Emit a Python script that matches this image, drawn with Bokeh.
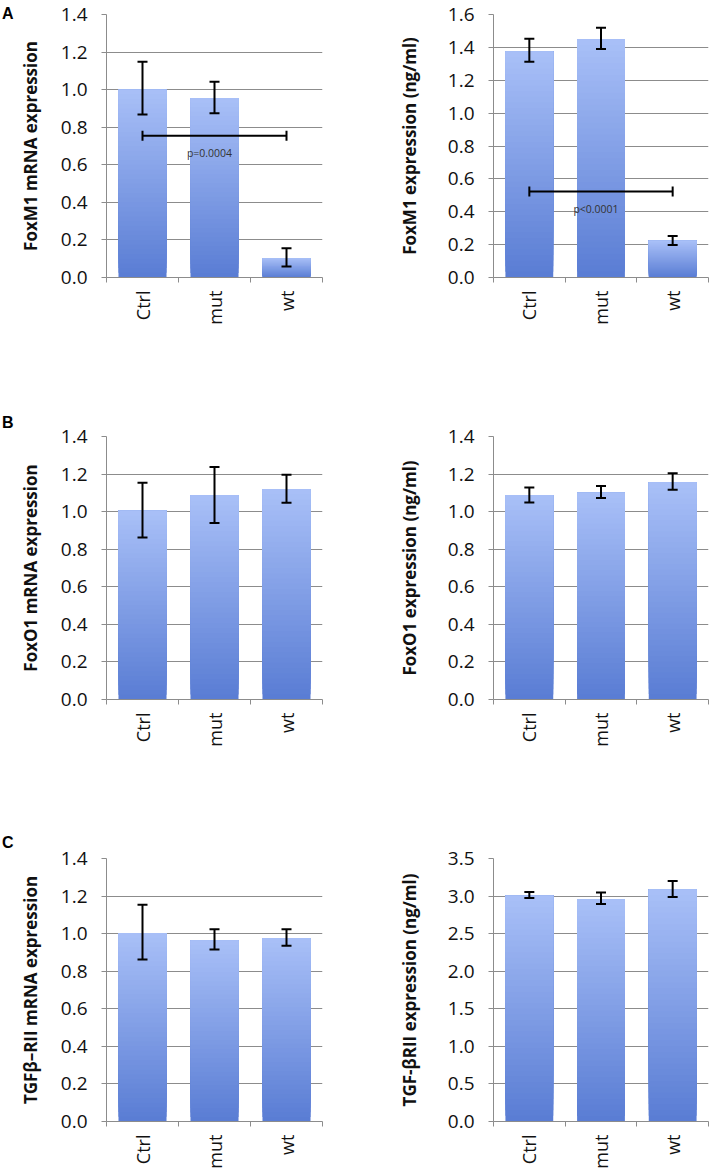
import math
from bokeh.plotting import figure
from bokeh.layouts import column, row
from bokeh.models import (Range1d, FixedTicker, PrintfTickFormatter, Whisker,
                          ColumnDataSource, TeeHead, Div)
from bokeh.core.properties import value
from bokeh.embed import file_html
from bokeh.resources import INLINE

# ---------------- data ----------------
categories = ["Ctrl", "mut", "wt"]

foxm1_mrna = [1.00, 0.955, 0.103]
foxm1_mrna_lo = [0.868, 0.875, 0.059]
foxm1_mrna_hi = [1.148, 1.042, 0.156]

foxm1_prot = [1.375, 1.45, 0.223]
foxm1_prot_lo = [1.312, 1.39, 0.197]
foxm1_prot_hi = [1.452, 1.519, 0.252]

foxo1_mrna = [1.005, 1.087, 1.12]
foxo1_mrna_lo = [0.862, 0.94, 1.048]
foxo1_mrna_hi = [1.154, 1.237, 1.197]

foxo1_prot = [1.089, 1.101, 1.156]
foxo1_prot_lo = [1.049, 1.073, 1.117]
foxo1_prot_hi = [1.129, 1.137, 1.204]

tgfb_mrna = [1.004, 0.964, 0.975]
tgfb_mrna_lo = [0.862, 0.915, 0.936]
tgfb_mrna_hi = [1.154, 1.023, 1.023]

tgfb_prot = [3.005, 2.956, 3.088]
tgfb_prot_lo = [2.974, 2.895, 2.987]
tgfb_prot_hi = [3.054, 3.049, 3.2]

# significance brackets: (from category, to category, level, p-text)
sig_foxm1_mrna = ("Ctrl", "wt", 0.754, "p=0.0004")
sig_foxm1_prot = ("Ctrl", "wt", 0.523, "p<0.0001")

panel_letters = ["A", "B", "C"]

# ---------------- style ----------------
FONT = "Open Sans"
GRAY = "#8c8c8c"
TOP_COL = (0xAA, 0xC1, 0xF8)
BOT_COL = (0x5A, 0x7D, 0xD4)
NSLICE = 40
FRAME_H = 263


def mix(t):
    c = [round(BOT_COL[i] + (TOP_COL[i] - BOT_COL[i]) * t) for i in range(3)]
    return "#%02x%02x%02x" % tuple(c)


def letter_div(letter, height, pad_top, width):
    """Narrow strip holding the panel letter."""
    return Div(text=letter, width=width, height=height,
               styles={"font-family": "Liberation Sans", "font-weight": "bold",
                       "font-size": "16px", "line-height": "18px", "color": "black",
                       "padding-top": f"{pad_top}px", "padding-left": "2px",
                       "box-sizing": "border-box", "margin": "0px"})


def make_panel(vals, lo, hi, ymax, ystep, ylabel, width, height, bl, br, bt, bb,
               label_standoff, sig=None):
    p = figure(width=width, height=height, output_backend="svg",
               toolbar_location=None, title=None, x_range=Range1d(0, len(categories)),
               y_range=Range1d(0, ymax), min_border_left=bl, min_border_right=br,
               min_border_top=bt, min_border_bottom=bb)
    p.outline_line_color = None
    p.background_fill_color = "white"
    p.border_fill_color = "white"

    centers = [i + 0.5 for i in range(len(categories))]
    # gradient bars: overlapping slices from bottom to top of each bar
    xs, bots, tops, cols = [], [], [], []
    for k in range(NSLICE):
        t = k / NSLICE
        for c, v in zip(centers, vals):
            xs.append(c)
            bots.append(v * t)
            tops.append(v)
            cols.append(mix(t))
    p.vbar(x=xs, bottom=bots, top=tops, width=0.667, fill_color=cols, line_color=None)

    src = ColumnDataSource(dict(x=centers, lo=lo, hi=hi))
    wh = Whisker(source=src, base="x", lower="lo", upper="hi", line_width=2,
                 line_color="black", level="overlay",
                 upper_head=TeeHead(size=10, line_width=2, line_color="black"),
                 lower_head=TeeHead(size=10, line_width=2, line_color="black"))
    p.add_layout(wh)

    if sig is not None:
        a, b, lev, txt = sig
        xa = categories.index(a) + 0.5
        xb = categories.index(b) + 0.5
        ssrc = ColumnDataSource(dict(y=[lev], x0=[xa], x1=[xb]))
        sw = Whisker(source=ssrc, base="y", lower="x0", upper="x1", dimension="width",
                     line_width=2, line_color="black", level="overlay",
                     upper_head=TeeHead(size=10, line_width=2, line_color="black"),
                     lower_head=TeeHead(size=10, line_width=2, line_color="black"))
        p.add_layout(sw)
        p.text(x=[(xa + xb) / 2], y=[lev], text=[txt], x_offset=-5, y_offset=17,
               text_align="center", text_baseline="middle",
               text_font=value(FONT), text_font_size="10.5px", text_color="#333333")

    # y axis
    n = int(round(ymax / ystep))
    p.yaxis.ticker = FixedTicker(ticks=[round(i * ystep, 3) for i in range(n + 1)])
    p.yaxis.formatter = PrintfTickFormatter(format="%.1f")
    p.yaxis.major_label_text_font = FONT
    p.yaxis.major_label_text_font_size = "19px"
    p.yaxis.major_label_text_color = "#111111"
    p.yaxis.major_label_standoff = 14
    p.yaxis.major_tick_out = 5
    p.yaxis.major_tick_in = 0
    p.yaxis.minor_tick_line_color = None
    p.yaxis.axis_line_color = GRAY
    p.yaxis.major_tick_line_color = GRAY
    p.yaxis.axis_label = ylabel
    p.yaxis.axis_label_text_font = FONT
    p.yaxis.axis_label_text_font_style = "bold"
    p.yaxis.axis_label_text_font_size = "17px"
    p.yaxis.axis_label_text_color = "#111111"
    p.yaxis.axis_label_standoff = label_standoff

    # x axis
    p.xaxis.ticker = FixedTicker(ticks=centers,
                                 minor_ticks=list(range(len(categories) + 1)))
    p.xaxis.major_label_overrides = {c: lab for c, lab in zip(centers, categories)}
    p.xaxis.major_label_orientation = math.pi / 2
    p.xaxis.major_label_text_font = FONT
    p.xaxis.major_label_text_font_size = "18px"
    p.xaxis.major_label_text_color = "#111111"
    p.xaxis.major_label_standoff = 8
    p.xaxis.major_tick_out = 0
    p.xaxis.major_tick_in = 0
    p.xaxis.major_tick_line_color = None
    p.xaxis.minor_tick_out = 5
    p.xaxis.minor_tick_in = 0
    p.xaxis.minor_tick_line_color = GRAY
    p.xaxis.axis_line_color = GRAY

    p.xgrid.grid_line_color = None
    p.ygrid.grid_line_color = GRAY
    p.ygrid.grid_line_width = 1
    return p


LTR_W = 15
LW, LBL, LBR, LSO = 341, 91, 34, 16     # left panels: frame 216 px
RW, RBL, RBR, RSO = 356, 137, 4, 24     # right panels: frame 215 px
HA, HB, HC = 412, 422, 338
TA, TB, TC = 14, 24, 24                 # frame top offsets
BA, BB, BC = HA - TA - FRAME_H, HB - TB - FRAME_H, HC - TC - FRAME_H

la = letter_div(panel_letters[0], HA, 5, LTR_W)
a1 = make_panel(foxm1_mrna, foxm1_mrna_lo, foxm1_mrna_hi, 1.4, 0.2,
                "FoxM1 mRNA expression", LW, HA, LBL, LBR, TA, BA, LSO,
                sig=sig_foxm1_mrna)
a2 = make_panel(foxm1_prot, foxm1_prot_lo, foxm1_prot_hi, 1.6, 0.2,
                "FoxM1 expression (ng/ml)", RW, HA, RBL, RBR, TA, BA, RSO,
                sig=sig_foxm1_prot)

lb = letter_div(panel_letters[1], HB, 2, LTR_W)
b1 = make_panel(foxo1_mrna, foxo1_mrna_lo, foxo1_mrna_hi, 1.4, 0.2,
                "FoxO1 mRNA expression", LW, HB, LBL, LBR, TB, BB, LSO)
b2 = make_panel(foxo1_prot, foxo1_prot_lo, foxo1_prot_hi, 1.4, 0.2,
                "FoxO1 expression (ng/ml)", RW, HB, RBL, RBR, TB, BB, RSO)

lc = letter_div(panel_letters[2], HC, 0, LTR_W)
c1 = make_panel(tgfb_mrna, tgfb_mrna_lo, tgfb_mrna_hi, 1.4, 0.2,
                "TGFβ\u2013RII mRNA expression", LW, HC, LBL, LBR, TC, BC, LSO)
c2 = make_panel(tgfb_prot, tgfb_prot_lo, tgfb_prot_hi, 3.5, 0.5,
                "TGF-βRII expression (ng/ml)", RW, HC, RBL, RBR, TC, BC, RSO)

layout = column(row(la, a1, a2), row(lb, b1, b2), row(lc, c1, c2))
open("out.html", "w").write(file_html(layout, INLINE))
